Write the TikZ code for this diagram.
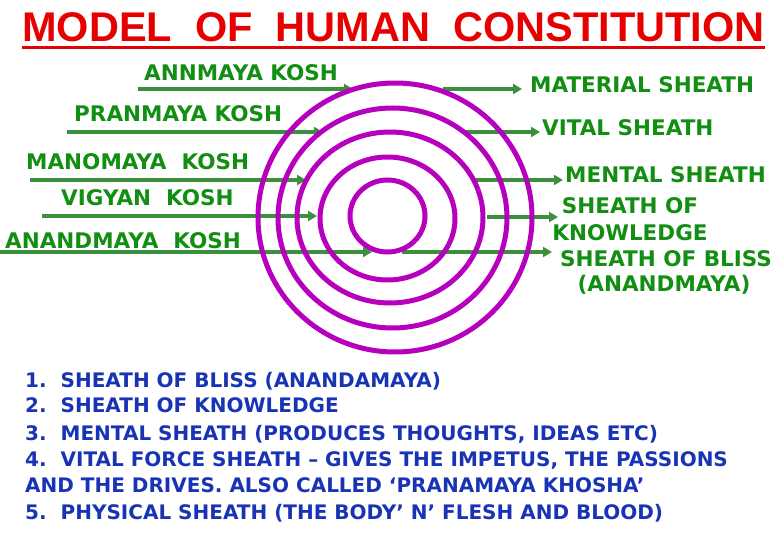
\documentclass[tikz,border=0pt]{standalone}
\usepackage{fontspec}
\setmainfont{DejaVu Sans}
\newfontfamily\headfont{Liberation Sans}
\usetikzlibrary{arrows.meta}
\definecolor{KoshGreen}{HTML}{128E12}
\definecolor{ArrowGreen}{HTML}{3C8F3C}
\definecolor{RingPurple}{HTML}{B600BE}
\definecolor{NoteBlue}{HTML}{1834B4}
\definecolor{TitleRed}{HTML}{E60000}

\begin{document}
\begin{tikzpicture}[x=1pt, y=-1pt, >={Triangle[length=9pt,width=10pt]},
  every node/.style={inner sep=0pt, anchor=base west},
  kosh/.style={font=\fontsize{21.5}{24}\selectfont\bfseries, text=KoshGreen},
  note/.style={font=\fontsize{20}{24}\selectfont\bfseries, text=NoteBlue},
  pointer/.style={->, line width=3.5pt, ArrowGreen},
  ring/.style={line width=5pt, RingPurple}]
  \useasboundingbox (0,0) rectangle (780,540);

  % title
  \node[font=\headfont\fontsize{41.5}{44}\selectfont\bfseries, text=TitleRed] (title) at (22,42) {MODEL\ \ OF\ \ HUMAN\ \ CONSTITUTION};
  \draw[TitleRed, line width=3pt] ([yshift=-6pt]title.base west) -- ([yshift=-6pt]title.base east);

  % sanskrit names
  \node[kosh] (ann) at (144,81) {ANNMAYA KOSH};
  \node[kosh] (pran) at (74,121.7) {PRANMAYA KOSH};
  \node[kosh] (mano) at (26,170) {MANOMAYA\ \ KOSH};
  \node[kosh] (vig) at (61,205.7) {VIGYAN\ \ KOSH};
  \node[kosh] (anand) at (5,248.3) {ANANDMAYA\ \ KOSH};

  % english names
  \node[kosh] (mat) at (530,92.7) {MATERIAL SHEATH};
  \node[kosh] (vital) at (542,135.7) {VITAL SHEATH};
  \node[kosh] (mental) at (565,183) {MENTAL SHEATH};
  \node[kosh, anchor=base] (knowa) at (630,213.3) {SHEATH OF};
  \node[kosh, anchor=base] (knowb) at (630,241) {KNOWLEDGE};
  \node[kosh, anchor=base] (blissa) at (666,266.7) {SHEATH OF BLISS};
  \node[kosh, anchor=base] (blissb) at (664,292) {(ANANDMAYA)};

  % arrow ends
  \coordinate (annS) at (138,89);    \coordinate (annE) at (353,89);
  \coordinate (pranS) at (67,132);   \coordinate (pranE) at (323,132);
  \coordinate (manoS) at (30,180);   \coordinate (manoE) at (306,180);
  \coordinate (vigS) at (42,216);    \coordinate (vigE) at (317,216);
  \coordinate (anandS) at (0,252);   \coordinate (anandE) at (372,252);
  \coordinate (matS) at (443,89);    \coordinate (matE) at (522,89);
  \coordinate (vitalS) at (462,132); \coordinate (vitalE) at (540,132);
  \coordinate (mentS) at (475,180);  \coordinate (mentE) at (563,180);
  \coordinate (knowS) at (487,217);  \coordinate (knowE) at (558,217);
  \coordinate (blissS) at (402,252); \coordinate (blissE) at (552,252);

  \draw[pointer] (annS) -- (annE);
  \draw[pointer] (pranS) -- (pranE);
  \draw[pointer] (manoS) -- (manoE);
  \draw[pointer] (vigS) -- (vigE);
  \draw[pointer] (anandS) -- (anandE);
  \draw[pointer] (matS) -- (matE);
  \draw[pointer] (vitalS) -- (vitalE);
  \draw[pointer] (mentS) -- (mentE);
  \draw[pointer] (knowS) -- (knowE);
  \draw[pointer] (blissS) -- (blissE);

  % the five sheaths
  \foreach \cx/\cy/\rx/\ry in {387.5/216/37.5/36, 387.5/218.5/67.5/61.5, 390/217.5/93/85.5, 392.5/218/114.5/110, 395/217.5/137/134.5}
    \draw[ring] (\cx,\cy) ellipse [x radius=\rx, y radius=\ry];

  % notes
  \node[note] (note1) at (25,388) {1.\ \ SHEATH OF BLISS (ANANDAMAYA)};
  \node[note] (note2) at (25,413) {2.\ \ SHEATH OF KNOWLEDGE};
  \node[note] (note3) at (25,440) {3.\ \ MENTAL SHEATH (PRODUCES THOUGHTS, IDEAS ETC)};
  \node[note] (note4) at (25,466) {4.\ \ VITAL FORCE SHEATH – GIVES THE IMPETUS, THE PASSIONS};
  \node[note] (note5) at (25,492) {AND THE DRIVES. ALSO CALLED ‘PRANAMAYA KHOSHA’};
  \node[note] (note6) at (25,519) {5.\ \ PHYSICAL SHEATH (THE BODY’ N’ FLESH AND BLOOD)};
\end{tikzpicture}
\end{document}
